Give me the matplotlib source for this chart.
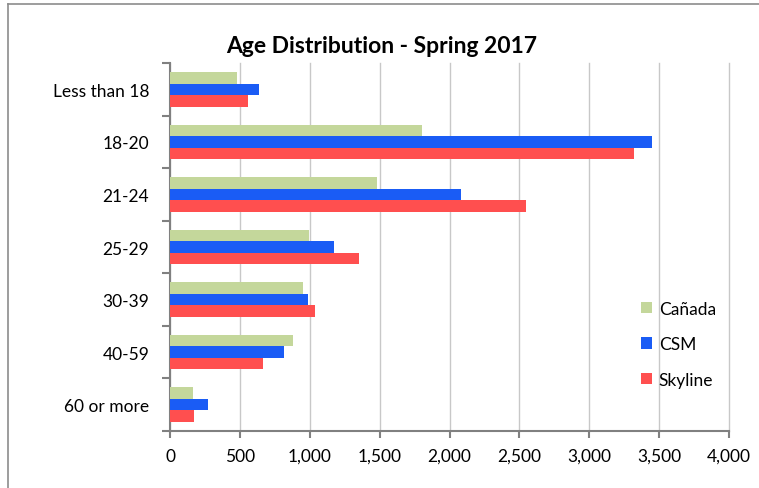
import matplotlib
matplotlib.use("Agg")
import matplotlib.pyplot as plt
import numpy as np
from matplotlib.lines import Line2D

plt.rcParams['font.family'] = ['Lato', 'DejaVu Sans']

categories = ["Less than 18", "18-20", "21-24", "25-29", "30-39", "40-59", "60 or more"]
canada = [478, 1806, 1484, 996, 955, 881, 168]
csm = [638, 3449, 2083, 1177, 991, 817, 275]
skyline = [557, 3323, 2548, 1351, 1041, 669, 173]
series_names = ["Cañada", "CSM", "Skyline"]
colors = ["#C4D79B", "#1A5CF5", "#FF4F4F"]
xticks = list(range(0, 4001, 500))

fig = plt.figure(figsize=(7.59, 4.89), dpi=100)
ax = fig.add_axes([170/759, 1-432/489, (729-170)/759, (432-64)/489])

n = len(categories)
y = np.arange(n)
h = 0.22
for i, (vals, name, c) in enumerate(zip([canada, csm, skyline], series_names, colors)):
    ax.barh(y + (i - 1) * h, vals, height=h, color=c, label=name, zorder=3)

ax.set_ylim(n - 0.5, -0.5)
ax.set_xlim(0, 4000)
ax.set_xticks(xticks)
ax.set_xticklabels([f"{v:,}" for v in xticks], fontsize=12.5)
ax.set_yticks(y)
ax.set_yticklabels(categories, fontsize=12.5)
ax.tick_params(axis='y', length=0, pad=15)
# minor ticks at category boundaries
ax.set_yticks(np.arange(-0.5, n, 1), minor=True)
ax.tick_params(axis='y', which='minor', length=6, color='#808080', width=1.5)
ax.tick_params(axis='x', length=5, color='#808080', width=1.5, pad=7)
ax.grid(axis='x', color='#C8C8C8', linewidth=1, zorder=0)
for gl in ax.get_xgridlines():
    gl.set_clip_on(False)
for s in ['top', 'right']:
    ax.spines[s].set_visible(False)
for s in ['left', 'bottom']:
    ax.spines[s].set_color('#808080')
    ax.spines[s].set_linewidth(1.5)

ax.set_title("Age Distribution - Spring 2017", fontsize=16.5, fontweight='bold',
             x=(382-170)/(729-170), pad=8)

leg = ax.legend(loc='upper left', bbox_to_anchor=((625-170)/559, 1-(286-64)/368),
                frameon=False, handlelength=0.65, handleheight=0.65,
                handletextpad=0.4, labelspacing=1.12, fontsize=12.5,
                facecolor='white')
leg.set_zorder(5)

# outer border
fig.add_artist(Line2D([8/759, 8/759], [0, 1-5/489], color='#8C8C8C', linewidth=1.2,
                      transform=fig.transFigure))
fig.add_artist(Line2D([8/759, 1], [1-5/489, 1-5/489], color='#8C8C8C', linewidth=1.2,
                      transform=fig.transFigure))

fig.savefig("out.png", dpi=100)
